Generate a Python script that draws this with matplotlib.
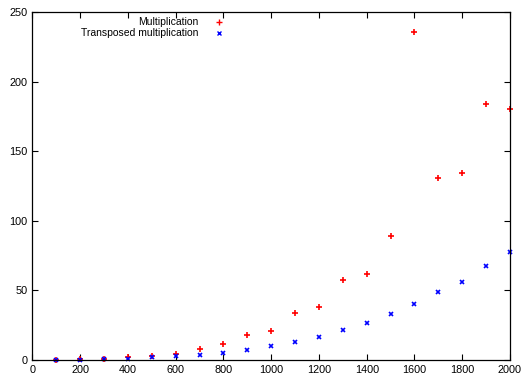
import numpy as np
import matplotlib
matplotlib.use('Agg')
import matplotlib.pyplot as plt

plt.rcParams['font.family'] = ['Liberation Sans', 'DejaVu Sans']

# Matrix size vs. time
sizes = [100, 200, 300, 400, 500, 600, 700, 800, 900, 1000,
         1100, 1200, 1300, 1400, 1500, 1600, 1700, 1800, 1900, 2000]
mult = [0.3, 0.7, 0.4, 1.9, 2.9, 4.2, 7.7, 11.3, 17.7, 20.6,
        33.5, 38.3, 57.5, 61.8, 89.0, 235.4, 131.0, 134.1, 184.0, 180.5]
transposed = [0.2, 0.3, 0.4, 1.0, 1.9, 2.8, 3.8, 5.2, 7.4, 9.8,
              12.9, 16.8, 21.3, 26.3, 33.0, 40.2, 48.6, 56.3, 67.3, 77.6]
labels = ['Multiplication', 'Transposed multiplication']

fig = plt.figure(figsize=(5.23, 3.73), dpi=100)
ax = fig.add_axes([0.0621, 0.0349, 0.9130, 0.9329])

ax.plot(sizes, mult, linestyle='none', marker='+', color='#ff0000',
        markersize=4.2, markeredgewidth=1.2, clip_on=False)
ax.plot(sizes, transposed, linestyle='none', marker='x', color='#0000ff',
        markersize=3.4, markeredgewidth=1.2, clip_on=False)

ax.set_xlim(0, 2000)
ax.set_ylim(0, 250)
ax.set_xticks(np.arange(0, 2001, 200))
ax.set_yticks(np.arange(0, 251, 50))
ax.tick_params(direction='in', length=4, width=0.8, top=True, right=True,
               labelsize=7.8, pad=3.5)
for s in ax.spines.values():
    s.set_linewidth(0.9)

# gnuplot-style key: right-justified text, sample to the right
key_y = [0.971, 0.939]
for lab, mk, col, ms, y in zip(labels, ['+', 'x'], ['#ff0000', '#0000ff'],
                               [3.8, 3.2], key_y):
    ax.text(0.3466, y, lab, transform=ax.transAxes, ha='right', va='center',
            fontsize=7.5)
    ax.plot([0.3906], [y], transform=ax.transAxes, marker=mk, color=col,
            markersize=ms, markeredgewidth=1.0, linestyle='none',
            clip_on=False)

fig.savefig('out.png', dpi=100)
